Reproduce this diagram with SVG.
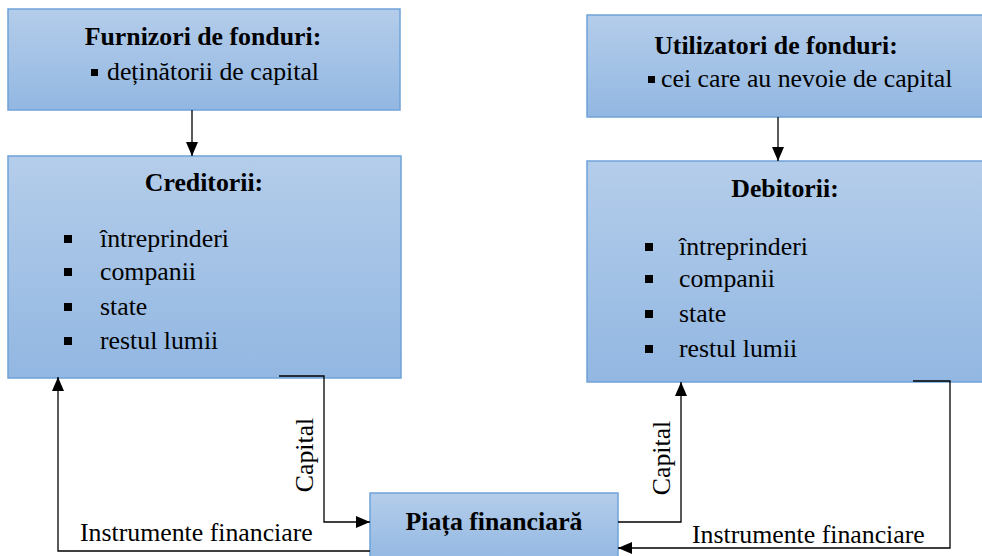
<svg xmlns="http://www.w3.org/2000/svg" width="982" height="556" viewBox="0 0 982 556">
  <defs>
    <linearGradient id="boxfill" x1="0" y1="0" x2="0" y2="1">
      <stop offset="0" stop-color="#b4cdea"/>
      <stop offset="1" stop-color="#92b7e2"/>
    </linearGradient>
    <marker id="arrow" markerUnits="userSpaceOnUse" markerWidth="14" markerHeight="14" viewBox="0 0 14 14" refX="14" refY="7" orient="auto">
      <path d="M0,1 L14,7 L0,13 Z" fill="#000"/>
    </marker>
  </defs>
  <style>
    .box { fill: url(#boxfill); stroke: #6fa3d8; stroke-width: 1.5; }
    .title { font-family: "Liberation Serif", "Times New Roman", serif; font-weight: bold; font-size: 25.8px; fill: #000; text-anchor: middle; }
    .body { font-family: "Liberation Serif", "Times New Roman", serif; font-size: 25.8px; fill: #000; }
    .lbl { font-family: "Liberation Serif", "Times New Roman", serif; font-size: 25.8px; fill: #000; }
    .conn { fill: none; stroke: #000; stroke-width: 1.3; }
    .bul { fill: #000; }
  </style>
  <rect width="982" height="556" fill="#fff"/>

  <g id="furnizori">
    <rect class="box" x="8" y="9" width="392" height="101"/>
    <text class="title" x="203" y="45">Furnizori de fonduri:</text>
    <rect class="bul" x="91" y="69" width="7" height="7"/>
    <text class="body" x="107" y="80">deținătorii de capital</text>
  </g>

  <g id="utilizatori">
    <rect class="box" x="587" y="15" width="400" height="102"/>
    <text class="title" x="776" y="54">Utilizatori de fonduri:</text>
    <rect class="bul" x="648" y="76" width="7" height="7"/>
    <text class="body" x="661" y="87">cei care au nevoie de capital</text>
  </g>

  <g id="creditorii">
    <rect class="box" x="8" y="156" width="393" height="222"/>
    <text class="title" x="204" y="191">Creditorii:</text>
    <rect class="bul" x="64" y="235" width="8" height="8"/>
    <text class="body" x="100" y="247">întreprinderi</text>
    <rect class="bul" x="64" y="268" width="8" height="8"/>
    <text class="body" x="100" y="280">companii</text>
    <rect class="bul" x="64" y="303" width="8" height="8"/>
    <text class="body" x="100" y="315">state</text>
    <rect class="bul" x="64" y="337" width="8" height="8"/>
    <text class="body" x="100" y="349">restul lumii</text>
  </g>

  <g id="debitorii">
    <rect class="box" x="587" y="161" width="400" height="221"/>
    <text class="title" x="785" y="197">Debitorii:</text>
    <rect class="bul" x="645" y="243" width="8" height="8"/>
    <text class="body" x="679" y="255">întreprinderi</text>
    <rect class="bul" x="645" y="275" width="8" height="8"/>
    <text class="body" x="679" y="287">companii</text>
    <rect class="bul" x="645" y="310" width="8" height="8"/>
    <text class="body" x="679" y="322">state</text>
    <rect class="bul" x="645" y="345" width="8" height="8"/>
    <text class="body" x="679" y="357">restul lumii</text>
  </g>

  <g id="piata">
    <rect class="box" x="370" y="493" width="248" height="70"/>
    <text class="title" x="494" y="530">Piața financiară</text>
  </g>

  <g id="connectors">
    <path class="conn" d="M192,110 V156" marker-end="url(#arrow)"/>
    <path class="conn" d="M778,117 V161" marker-end="url(#arrow)"/>
    <path class="conn" d="M279,376 H324 V522 H370" marker-end="url(#arrow)"/>
    <path class="conn" d="M370,551 H58 V377" marker-end="url(#arrow)"/>
    <path class="conn" d="M618,522 H681 V382" marker-end="url(#arrow)"/>
    <path class="conn" d="M913,381 H950 V548 H618" marker-end="url(#arrow)"/>
    <text class="lbl" transform="translate(313,455) rotate(-90)" text-anchor="middle">Capital</text>
    <text class="lbl" transform="translate(670,458) rotate(-90)" text-anchor="middle">Capital</text>
    <text class="lbl" x="80" y="541">Instrumente financiare</text>
    <text class="lbl" x="692" y="543">Instrumente financiare</text>
  </g>
</svg>
